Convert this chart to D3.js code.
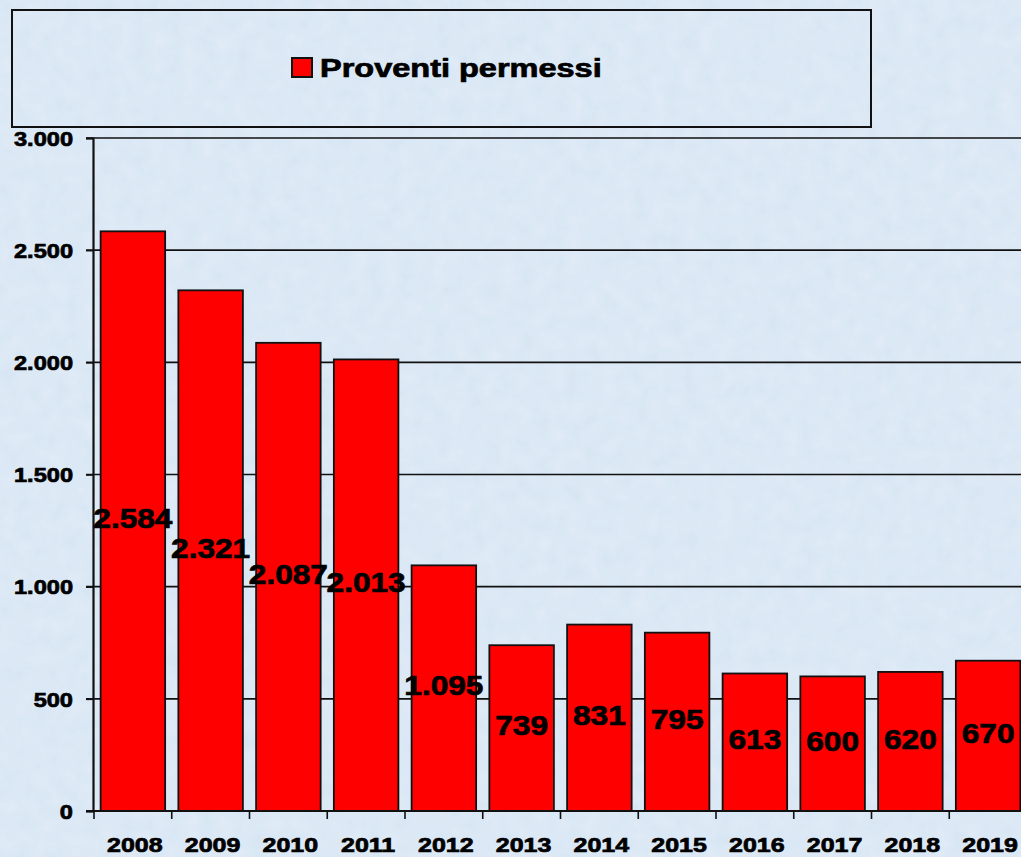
<!DOCTYPE html>
<html>
<head>
<meta charset="utf-8">
<script src="https://cdn.jsdelivr.net/npm/d3@7"></script>
<style>
  html, body { margin: 0; padding: 0; background: #dae6f3; }
  svg { display: block; font-family: "Liberation Sans", Arial, sans-serif; font-weight: bold; }
</style>
</head>
<body>
<div id="vis"></div>
<script>
const FRAME_WIDTH = 1021;
const FRAME_HEIGHT = 857;

// data
const years = ["2008", "2009", "2010", "2011", "2012", "2013",
               "2014", "2015", "2016", "2017", "2018", "2019"];
const proventi = [2584, 2321, 2087, 2013, 1095, 739, 831, 795, 613, 600, 620, 670];
const yTicks = [0, 500, 1000, 1500, 2000, 2500, 3000];
const seriesName = "Proventi permessi";

const itLocale = d3.formatLocale({decimal: ",", thousands: ".", grouping: [3], currency: ["", ""]});
const fmt = itLocale.format(",");

// the original text is wide and heavy: widen glyphs and thicken them a bit
function wide(sel, sx) {
  sel.attr("transform", function() {
      const t = d3.select(this);
      return "translate(" + t.attr("x") + "," + t.attr("y") + ") scale(" + sx + ",1)";
    })
    .attr("x", 0).attr("y", 0)
    .attr("stroke", "#000").attr("stroke-width", 0.7)
    .attr("fill", "#000");
}

const FRAME = d3.select("#vis")
  .append("svg")
    .attr("width", FRAME_WIDTH)
    .attr("height", FRAME_HEIGHT);

// textured light blue background
const defs = FRAME.append("defs");
const filt = defs.append("filter").attr("id", "paper")
    .attr("x", 0).attr("y", 0).attr("width", "100%").attr("height", "100%");
filt.append("feTurbulence")
    .attr("type", "fractalNoise").attr("baseFrequency", 0.06)
    .attr("numOctaves", 3).attr("seed", 4).attr("result", "noise");
filt.append("feColorMatrix")
    .attr("in", "noise").attr("type", "matrix")
    .attr("values", "0 0 0 0 1  0 0 0 0 1  0 0 0 0 1  0 0 0 0.3 -0.06");

FRAME.append("rect")
    .attr("width", FRAME_WIDTH).attr("height", FRAME_HEIGHT)
    .attr("fill", "#d8e6f4");
FRAME.append("rect")
    .attr("width", FRAME_WIDTH).attr("height", FRAME_HEIGHT)
    .attr("filter", "url(#paper)");

// scales
const X_SCALE = d3.scaleBand()
    .domain(years)
    .range([94, 94 + 12 * 77.75])
    .paddingInner(0.17)
    .paddingOuter(0.085);

const Y_SCALE = d3.scaleLinear()
    .domain([0, 3000])
    .range([811, 138]);

// gridlines
FRAME.append("g")
  .selectAll("line")
  .data(yTicks.filter(d => d > 0))
  .enter()
  .append("line")
    .attr("x1", 86).attr("x2", FRAME_WIDTH)
    .attr("y1", d => Y_SCALE(d)).attr("y2", d => Y_SCALE(d))
    .attr("stroke", "#111").attr("stroke-width", 1.6);

// bars
FRAME.append("g")
  .selectAll("rect")
  .data(proventi)
  .enter()
  .append("rect")
    .attr("x", (d, i) => X_SCALE(years[i]))
    .attr("y", d => Y_SCALE(d))
    .attr("width", X_SCALE.bandwidth())
    .attr("height", d => Y_SCALE(0) - Y_SCALE(d))
    .attr("fill", "#ff0000")
    .attr("stroke", "#111")
    .attr("stroke-width", 1.8);

// y axis
const yAxis = FRAME.append("g")
    .attr("transform", "translate(93,0)")
    .call(d3.axisLeft(Y_SCALE).tickValues(yTicks).tickSize(7).tickFormat(fmt));
yAxis.select(".domain").attr("stroke", "#111").attr("stroke-width", 2.2);
yAxis.selectAll(".tick line").attr("stroke", "#111").attr("stroke-width", 1.6);
yAxis.selectAll(".tick text")
    .attr("x", -20)
    .attr("y", 0)
    .attr("dy", "0.36em")
    .attr("font-family", "Liberation Sans, Arial, sans-serif")
    .attr("font-weight", "bold")
    .attr("font-size", 20)
    .call(wide, 1.18);

// x axis: baseline, tick marks between categories, labels
const step = X_SCALE.step();
const x0 = X_SCALE.range()[0];
FRAME.append("line")
    .attr("x1", 86).attr("x2", FRAME_WIDTH)
    .attr("y1", Y_SCALE(0)).attr("y2", Y_SCALE(0))
    .attr("stroke", "#111").attr("stroke-width", 2);
FRAME.append("g")
  .selectAll("line")
  .data(d3.range(years.length + 1))
  .enter()
  .append("line")
    .attr("x1", i => x0 + i * step).attr("x2", i => x0 + i * step)
    .attr("y1", Y_SCALE(0)).attr("y2", Y_SCALE(0) + 8)
    .attr("stroke", "#111").attr("stroke-width", 1.6);
FRAME.append("g")
  .selectAll("text")
  .data(years)
  .enter()
  .append("text")
    .attr("x", d => X_SCALE(d) + X_SCALE.bandwidth() / 2 + 2)
    .attr("y", 852)
    .attr("text-anchor", "middle")
    .attr("font-size", 20)
    .text(d => d)
    .call(wide, 1.25);

// value labels, centred in each bar
FRAME.append("g")
  .selectAll("text")
  .data(proventi)
  .enter()
  .append("text")
    .attr("x", (d, i) => X_SCALE(years[i]) + X_SCALE.bandwidth() / 2)
    .attr("y", d => Y_SCALE(d / 2) - 3)
    .attr("dy", "0.36em")
    .attr("text-anchor", "middle")
    .attr("font-size", 28)
    .text(d => fmt(d))
    .call(wide, 1.13);

// legend
FRAME.append("rect")
    .attr("x", 12).attr("y", 10)
    .attr("width", 859).attr("height", 117)
    .attr("fill", "none")
    .attr("stroke", "#111").attr("stroke-width", 2);
FRAME.append("rect")
    .attr("x", 292).attr("y", 58)
    .attr("width", 20).attr("height", 19)
    .attr("fill", "#ff0000")
    .attr("stroke", "#111").attr("stroke-width", 2);
FRAME.append("text")
    .attr("x", 320).attr("y", 77)
    .attr("font-size", 25)
    .text(seriesName)
    .call(wide, 1.3);
</script>
</body>
</html>
